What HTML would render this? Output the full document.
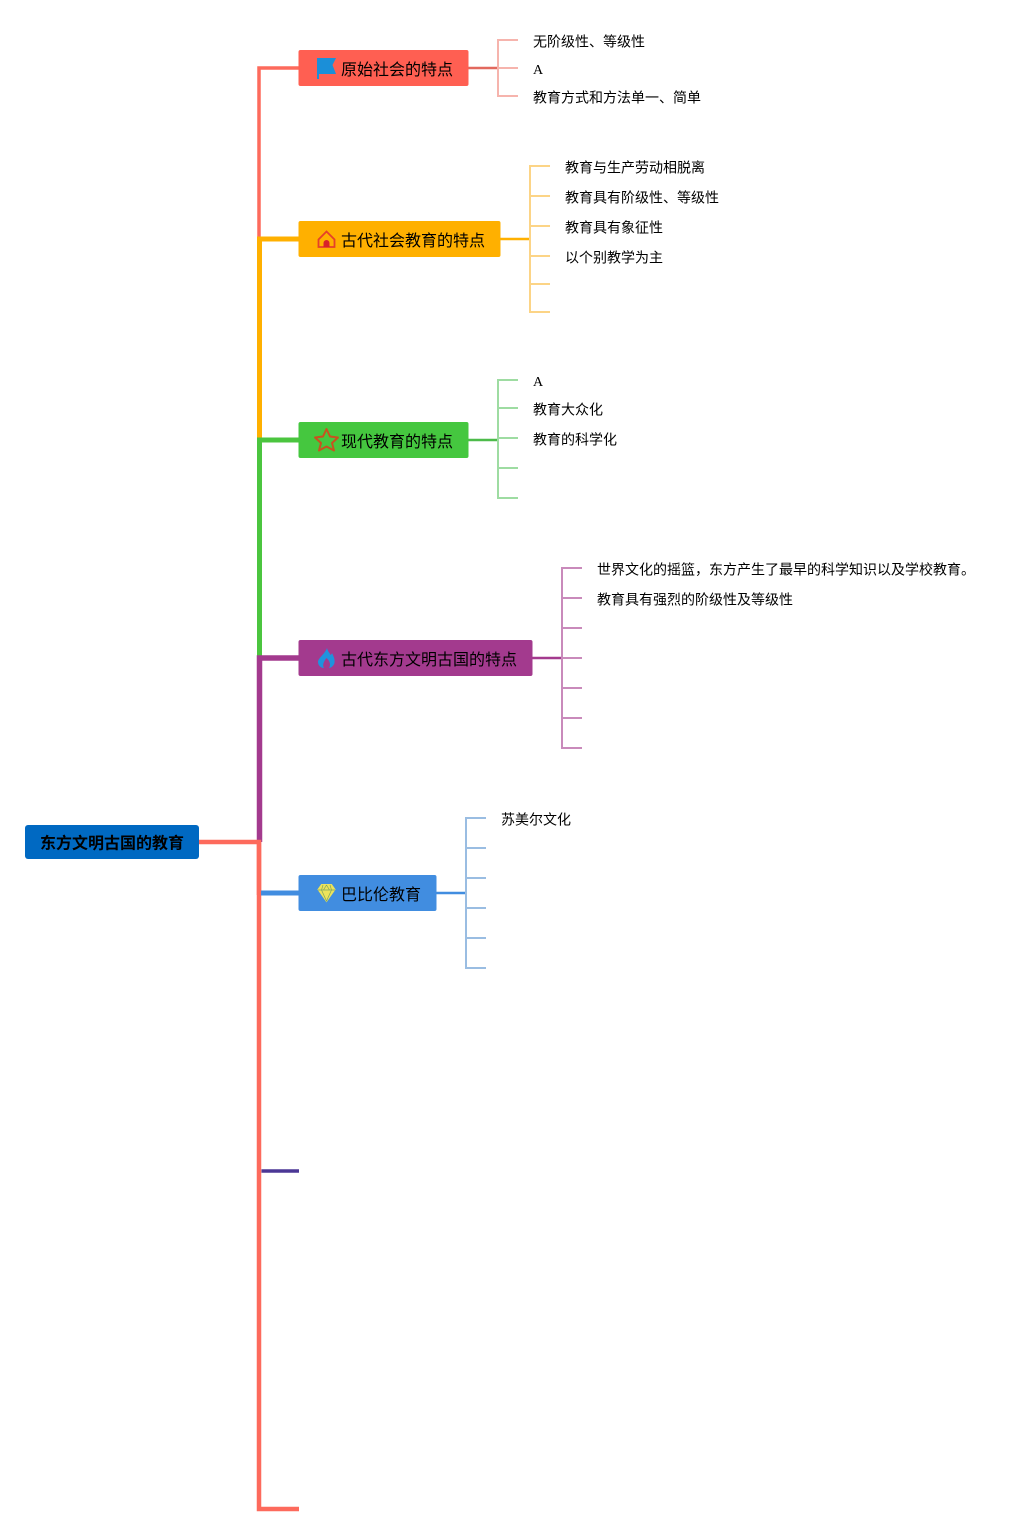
<!DOCTYPE html>
<html><head><meta charset="utf-8"><style>
html,body{margin:0;padding:0;background:#fff}
svg{display:block}
text{font-family:"Liberation Serif","WenQuanYi Zen Hei","Noto Sans CJK SC",serif;fill:#000}
.n{font-size:16px}.l{font-size:14px}.r{font-size:16px;font-weight:bold}
</style></head><body>
<svg width="1035" height="1534" viewBox="0 0 1035 1534" xmlns="http://www.w3.org/2000/svg" fill="none">
<!-- trunk -->
<path d="M299 68H259V239" stroke="#fd6a5c" stroke-width="3.500"/>
<path d="M259 842V1509H299" stroke="#fd6a5c" stroke-width="4.500"/>
<path d="M299 239H259.500V440" stroke="#ffb000" stroke-width="5"/>
<path d="M299 440H259.500V658" stroke="#4bc53f" stroke-width="5"/>
<path d="M299 658H259.500V842" stroke="#a33a8e" stroke-width="5.500"/>
<path d="M199 842H259V895" stroke="#fd6a5c" stroke-width="4.500"/>
<path d="M261 893H299" stroke="#418de0" stroke-width="5"/>
<path d="M261.500 1171H299" stroke="#4b3795" stroke-width="3.500"/>
<!-- branch 1 -->
<path d="M468 68H498" stroke="#e2695e" stroke-width="2.500"/>
<path d="M518 40H498V96H518M498 68H518" stroke="#f6b4ad" stroke-width="2"/>
<!-- branch 2 -->
<path d="M500 239H530" stroke="#ffb000" stroke-width="2.500"/>
<path d="M550 166H530V312H550M530 196H550M530 226H550M530 256H550M530 284H550" stroke="#fcd486" stroke-width="2"/>
<!-- branch 3 -->
<path d="M468 440H498" stroke="#4dbb4a" stroke-width="2.500"/>
<path d="M518 380H498V498H518M498 408H518M498 438H518M498 468H518" stroke="#9edca2" stroke-width="2"/>
<!-- branch 4 -->
<path d="M532 658H562" stroke="#a33a8e" stroke-width="2.500"/>
<path d="M582 568H562V748H582M562 598H582M562 628H582M562 658H582M562 688H582M562 718H582" stroke="#c98abb" stroke-width="2"/>
<!-- branch 5 -->
<path d="M436 893H466" stroke="#418de0" stroke-width="2.500"/>
<path d="M486 818H466V968H486M466 848H486M466 878H486M466 908H486M466 938H486" stroke="#9abde2" stroke-width="2"/>
<!-- nodes -->
<rect x="25" y="825" width="174" height="34" rx="3" fill="#0069c2"/>
<text class="r" x="40" y="848.500">东方文明古国的教育</text>
<rect x="298.500" y="50" width="170" height="36" rx="2" fill="#ff5f52"/>
<text class="n" x="341" y="75">原始社会的特点</text>
<path d="M317 58H336L332.500 65L336 74H319V79H317Z" fill="#1b8fd8"/>
<rect x="298.500" y="221" width="202" height="36" rx="2" fill="#ffb000"/>
<text class="n" x="341" y="246">古代社会教育的特点</text>
<path d="M318.500 239.500L326.500 231.500L334.500 239.500V247H318.500Z" stroke="#e5402a" stroke-width="1.800" fill="#ffb000"/>
<path d="M323.500 247V243A3 3 0 0 1 329.500 243V247Z" fill="#d8222a"/>
<rect x="298.500" y="422" width="170" height="36" rx="2" fill="#45c73f"/>
<text class="n" x="341" y="447">现代教育的特点</text>
<path d="M326.500 429L330 436.500L338 437.500L332 443L334 450.500L326.500 446.500L319 450.500L321 443L315 437.500L323 436.500Z" stroke="#c9521f" stroke-width="2" stroke-linejoin="round"/>
<rect x="298.500" y="640" width="234" height="36" rx="2" fill="#a33a8e"/>
<text class="n" x="341" y="665">古代东方文明古国的特点</text>
<path d="M327 648C328 652 330 653 330.500 655C332 654 332 653 332 653C334 657 335 660 334.500 663C333.500 666 331 668 329 668C331 665 330 661 326.500 658C324 661 322 665 324 668C320.500 668 318 665 318 662C318 658 325 654 327 648Z" fill="#1f93dd"/>
<rect x="298.500" y="875" width="138" height="36" rx="2" fill="#418de0"/>
<text class="n" x="341" y="900">巴比伦教育</text>
<path d="M321.500 884.500H331.500L335 889.500L326.500 901.500L318 889.500Z" fill="#ece35c" stroke="#ece35c"/>
<path d="M318 890H335M323 885L321.500 890L326.500 901L331.500 890L330 885M326.500 885L323.500 890M326.500 885L329.500 890" stroke="#7fa55f" stroke-width=".7"/>
<!-- leaves -->
<text class="l" x="533" y="46.500">无阶级性、等级性</text>
<text class="l" x="533" y="74">A</text>
<text class="l" x="533" y="102.500">教育方式和方法单一、简单</text>
<text class="l" x="565" y="172.500">教育与生产劳动相脱离</text>
<text class="l" x="565" y="202.500">教育具有阶级性、等级性</text>
<text class="l" x="565" y="232.500">教育具有象征性</text>
<text class="l" x="565" y="262.500">以个别教学为主</text>
<text class="l" x="533" y="386">A</text>
<text class="l" x="533" y="414.500">教育大众化</text>
<text class="l" x="533" y="444.500">教育的科学化</text>
<text class="l" x="597" y="574.500">世界文化的摇篮，东方产生了最早的科学知识以及学校教育。</text>
<text class="l" x="597" y="604.500">教育具有强烈的阶级性及等级性</text>
<text class="l" x="501" y="824.500">苏美尔文化</text>
</svg>
</body></html>
